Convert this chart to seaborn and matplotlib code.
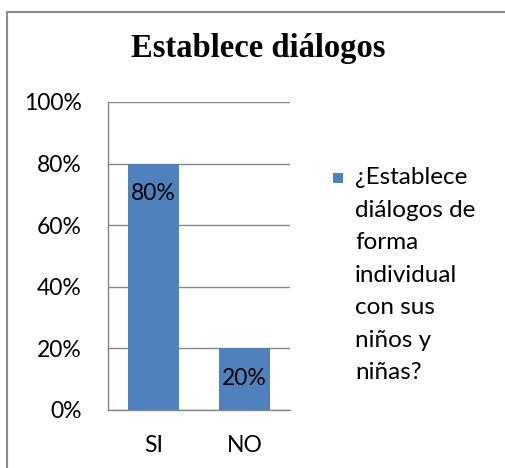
import matplotlib
matplotlib.use('Agg')
import matplotlib.pyplot as plt
import seaborn as sns
from matplotlib.patches import Rectangle
from matplotlib.lines import Line2D
from matplotlib.ticker import PercentFormatter

# Data
categories = ['SI', 'NO']
values = [80, 20]
title = 'Establece diálogos'
series_label = '¿Establece\ndiálogos de\nforma\nindividual\ncon sus\nniños y\nniñas?'

bar_color = '#4F81BD'
grid_color = '#868686'

sns.set_theme(style='white')
plt.rcParams['font.family'] = ['Lato', 'DejaVu Sans']
plt.rcParams['text.color'] = 'black'

W, H = 505, 468
fig = plt.figure(figsize=(W / 100, H / 100), dpi=100)
ax = fig.add_axes([108 / W, 1 - 410 / H, 182 / W, 308 / H])

sns.barplot(x=categories, y=values, color=bar_color, width=0.57,
            saturation=1, ax=ax, edgecolor='none')

ax.set_ylim(0, 100)
ax.set_xlim(-0.5, 1.5)
ax.set_yticks([0, 20, 40, 60, 80, 100])
ax.yaxis.set_major_formatter(PercentFormatter(100, decimals=0))
ax.yaxis.grid(True, color=grid_color, linewidth=1)
ax.set_axisbelow(True)
for side in ['top', 'right']:
    ax.spines[side].set_visible(False)
for side in ['left', 'bottom']:
    ax.spines[side].set_color(grid_color)
    ax.spines[side].set_linewidth(1)
ax.tick_params(axis='y', length=0, pad=19, labelsize=16.5, labelcolor='black')
ax.tick_params(axis='x', length=0, pad=18, labelsize=16.5, labelcolor='black')
ax.set_xlabel('')
ax.set_ylabel('')

# data labels inside bars
for container in ax.containers:
    ax.bar_label(container, labels=[f'{v}%' for v in values], label_type='edge',
                 padding=-29, fontsize=16.5, color='black')

fig.text(258 / W, 1 - 48 / H, title, ha='center', va='center', color='black',
         fontsize=23.5, fontweight='bold', family='Liberation Serif')

# legend (marker + wrapped label)
fig.patches.append(Rectangle((333 / W, 1 - 183 / H), 10 / W, 10 / H,
                             transform=fig.transFigure, facecolor=bar_color,
                             edgecolor='none'))
fig.text(355 / W, 1 - 167 / H, series_label, ha='left', va='top',
         fontsize=17.5, linespacing=1.68, color='black')

# outer chart border (left and top edges visible)
fig.add_artist(Line2D([6.5 / W, 6.5 / W], [0, 1 - 11.5 / H],
                      transform=fig.transFigure, color='#8c8c8c', linewidth=1.5))
fig.add_artist(Line2D([6.5 / W, 1.02], [1 - 11.5 / H, 1 - 11.5 / H],
                      transform=fig.transFigure, color='#8c8c8c', linewidth=1.5))

fig.savefig('out.png', dpi=100)
